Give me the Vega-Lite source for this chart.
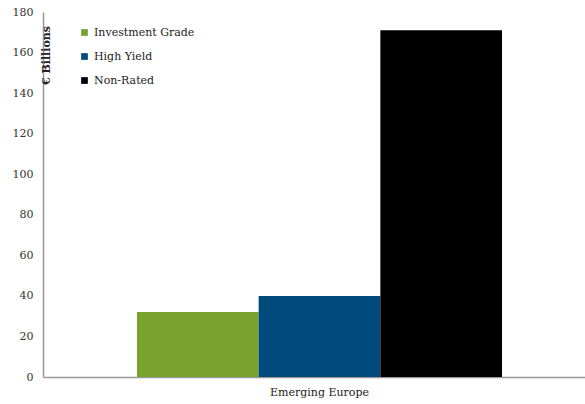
{
  "$schema": "https://vega.github.io/schema/vega-lite/v6.json",
  "autosize": "none",
  "width": 553,
  "height": 365,
  "padding": {"left": 43, "top": 12, "right": 0, "bottom": 27},
  "background": "white",
  "config": {
    "view": {"stroke": null},
    "font": "DejaVu Serif"
  },
  "data": {
    "values": [
      {"region": "Emerging Europe", "rating": "Investment Grade", "value": 32},
      {"region": "Emerging Europe", "rating": "High Yield", "value": 40},
      {"region": "Emerging Europe", "rating": "Non-Rated", "value": 171}
    ]
  },
  "mark": {"type": "bar"},
  "encoding": {
    "x": {
      "field": "region",
      "type": "nominal",
      "scale": {"paddingInner": 0, "paddingOuter": 0.2575},
      "axis": {
        "title": null,
        "labelAngle": 0,
        "ticks": false,
        "domainColor": "#999999",
        "domainWidth": 1.5,
        "labelFont": "DejaVu Serif",
        "labelFontSize": 11,
        "labelColor": "#222222",
        "labelPadding": 9
      }
    },
    "xOffset": {
      "field": "rating",
      "type": "nominal",
      "sort": ["Investment Grade", "High Yield", "Non-Rated"],
      "scale": {"paddingInner": 0, "paddingOuter": 0}
    },
    "y": {
      "field": "value",
      "type": "quantitative",
      "scale": {"domain": [0, 180]},
      "axis": {
        "values": [0, 20, 40, 60, 80, 100, 120, 140, 160, 180],
        "grid": false,
        "ticks": false,
        "domainColor": "#999999",
        "domainWidth": 1.5,
        "labelFont": "DejaVu Serif",
        "labelFontSize": 11,
        "labelColor": "#333333",
        "labelPadding": 10,
        "title": "€ Billions",
        "titleFont": "DejaVu Serif",
        "titleFontSize": 11,
        "titleFontWeight": "bold",
        "titleColor": "#222222",
        "titleAngle": -90,
        "titleX": 3,
        "titleY": 43,
        "titleAlign": "center",
        "titleBaseline": "middle"
      }
    },
    "color": {
      "field": "rating",
      "type": "nominal",
      "sort": ["Investment Grade", "High Yield", "Non-Rated"],
      "scale": {
        "domain": ["Investment Grade", "High Yield", "Non-Rated"],
        "range": ["#78A22F", "#004A7C", "#000000"]
      },
      "legend": {
        "title": null,
        "orient": "none",
        "legendX": 36,
        "legendY": 15,
        "symbolType": "square",
        "symbolSize": 45,
        "symbolStrokeWidth": 0,
        "labelFont": "DejaVu Serif",
        "labelFontSize": 11,
        "labelColor": "#222222",
        "labelOffset": 4,
        "rowPadding": 12
      }
    }
  }
}
